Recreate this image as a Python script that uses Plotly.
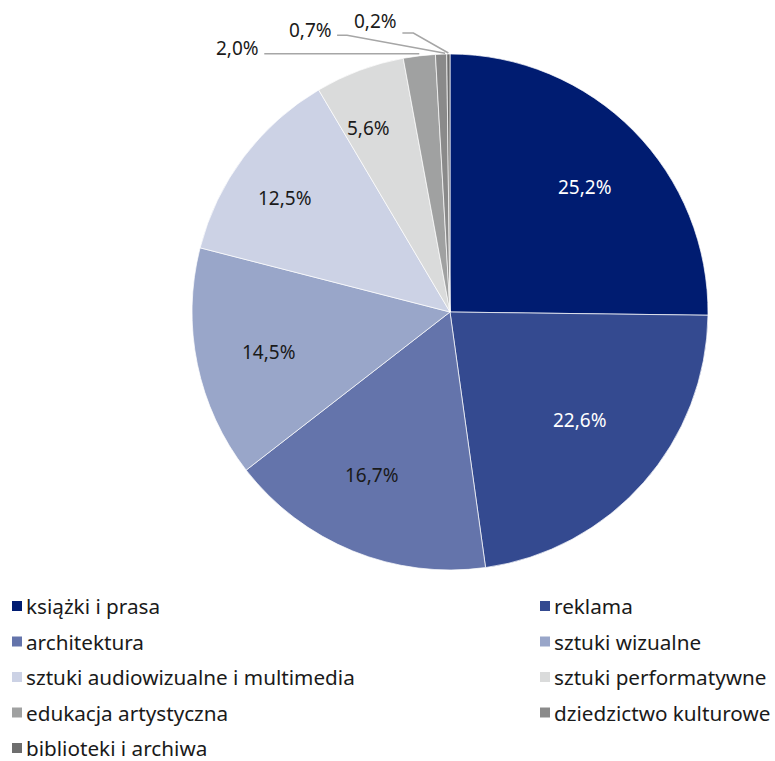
import math
import plotly.graph_objects as go

categories = [
    "książki i prasa", "reklama", "architektura", "sztuki wizualne",
    "sztuki audiowizualne i multimedia", "sztuki performatywne",
    "edukacja artystyczna", "dziedzictwo kulturowe", "biblioteki i archiwa",
]
values = [25.2, 22.6, 16.7, 14.5, 12.5, 5.6, 2.0, 0.7, 0.2]
value_labels = ["25,2%", "22,6%", "16,7%", "14,5%", "12,5%", "5,6%", "2,0%", "0,7%", "0,2%"]

colors = ["#001c71", "#344a90", "#6474ab", "#99a6c9", "#ccd2e5",
          "#dadbdb", "#a0a1a1", "#8a8a8a", "#6e6e6e"]
text_colors = ["white", "white", "#1a1a1a", "#1a1a1a", "#1a1a1a", "#1a1a1a"]
# inside-label placement: radius fraction and angular nudge (degrees)
label_radius = [0.713, 0.655, 0.70, 0.72, 0.775, 0.78]
label_shift = [1.8, -1.7, 3.5, -0.7, -2.3, -3.5]

W, H = 775, 761
CX, CY, R = 450, 312, 258
FONT = "Noto Sans"
FS = 19
LFS = 20.7


def px(x):
    return x / W


def py(y):
    return 1 - y / H


fig = go.Figure(go.Pie(
    labels=categories, values=values, sort=False, direction="clockwise",
    rotation=0, textinfo="none", hoverinfo="label+percent",
    marker=dict(colors=colors, line=dict(color="white", width=0.7)),
    domain=dict(x=[px(CX - R), px(CX + R)], y=[py(CY + R), py(CY - R)]),
    showlegend=False,
))

annotations = []
shapes = []
total = sum(values)
cum = 0.0
for i, v in enumerate(values):
    mid = (cum + v / 2) / total * 2 * math.pi
    cum += v
    if i < len(label_radius):
        a = mid + math.radians(label_shift[i])
        rr = R * label_radius[i]
        annotations.append(dict(
            x=px(CX + rr * math.sin(a)), y=py(CY - rr * math.cos(a)),
            xref="paper", yref="paper", xanchor="center", yanchor="middle",
            text=value_labels[i], showarrow=False,
            font=dict(family=FONT, size=FS, color=text_colors[i]),
        ))
    else:
        ex, ey = CX + R * math.sin(mid), CY - R * math.cos(mid)
        ann = dict(text=value_labels[i], showarrow=False, xref="paper", yref="paper",
                   font=dict(family=FONT, size=FS, color="#1a1a1a"),
                   xanchor="right", yanchor="middle")
        idx = i - len(label_radius)
        # leader line layouts (elbow offsets relative to slice edge)
        if idx == 0:
            tx, ty = ex - 155, ey - 2
            path = f"M {px(tx)},{py(ty)} L {px(ex)},{py(ty)}"
            ann.update(x=px(tx - 3), y=py(ty - 6))
        elif idx == 1:
            tx, ty = ex - 104, ey - 19
            path = f"M {px(tx)},{py(ty)} L {px(tx + 10)},{py(ty)} L {px(ex + 4)},{py(ey - 1)}"
            ann.update(x=px(tx - 3), y=py(ty - 5))
        else:
            tx, ty = ex - 46, ey - 21
            path = f"M {px(tx)},{py(ty)} L {px(tx + 11)},{py(ty)} L {px(ex)},{py(ey - 1)}"
            ann.update(x=px(tx - 3), y=py(ty - 12))
        annotations.append(ann)
        shapes.append(dict(type="path", path=path, xref="paper", yref="paper",
                           line=dict(color="#a6a6a6", width=1.5)))

# legend: two columns
col_x = [12, 540]
row_y0, row_dy = 606, 35.5
for i, name in enumerate(categories):
    r, c = divmod(i, 2)
    x0 = col_x[c]
    yc = row_y0 + r * row_dy
    shapes.append(dict(type="rect", xref="paper", yref="paper",
                       x0=px(x0), x1=px(x0 + 10), y0=py(yc + 5), y1=py(yc - 5),
                       fillcolor=colors[i], line=dict(width=0)))
    annotations.append(dict(x=px(x0 + 13), y=py(yc), xref="paper", yref="paper",
                            text=name, showarrow=False, xanchor="left", yanchor="middle",
                            borderpad=0,
                            font=dict(family=FONT, size=LFS, color="#1a1a1a")))

fig.update_layout(
    width=W, height=H, margin=dict(l=0, r=0, t=0, b=0),
    paper_bgcolor="white", plot_bgcolor="white",
    annotations=annotations, shapes=shapes,
)
fig.write_html("out.html", config={"displayModeBar": False},
               post_script="document.body.style.margin='0';")
